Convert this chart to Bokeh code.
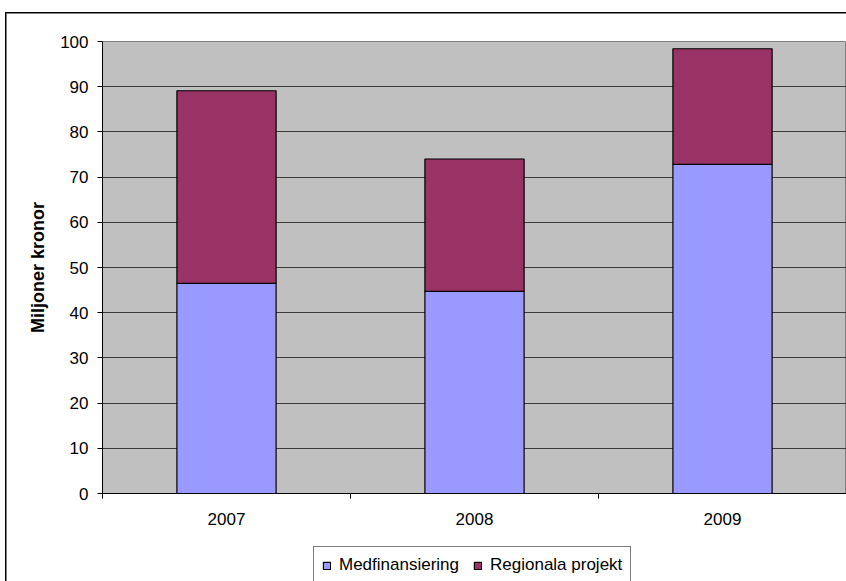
from bokeh.plotting import figure
from bokeh.layouts import column
from bokeh.models import Range1d, FixedTicker, Legend, LegendItem, ColumnDataSource
from bokeh.embed import file_html
from bokeh.resources import INLINE

years = ["2007", "2008", "2009"]
medfinansiering = [46.5, 44.7, 72.8]
regionala = [42.6, 29.3, 25.6]
y_ticks = [0, 10, 20, 30, 40, 50, 60, 70, 80, 90, 100]
series_names = ["Medfinansiering", "Regionala projekt"]
series_colors = ["#9999FF", "#993366"]

x = list(range(len(years)))
src = ColumnDataSource(dict(x=x, med=medfinansiering, reg=regionala,
                            top=[a + b for a, b in zip(medfinansiering, regionala)]))

FONT = "Liberation Sans"
FS = "17px"

p = figure(width=846, height=540, output_backend="svg", toolbar_location=None,
           x_range=Range1d(-0.5, 2.5), y_range=Range1d(0, 100),
           min_border_left=102, min_border_top=41, min_border_right=0, min_border_bottom=47)
p.background_fill_color = "#C0C0C0"
p.border_fill_alpha = 0
p.outline_line_color = "#808080"
p.styles = {"box-shadow": "inset 5px 12px 0 0 white, inset 6.5px 13.5px 0 0 black"}

p.vbar(x="x", top="med", bottom=0, width=0.4, source=src,
       fill_color=series_colors[0], line_color="black", line_width=1.2)
p.vbar(x="x", top="top", bottom="med", width=0.4, source=src,
       fill_color=series_colors[1], line_color="black", line_width=1.2)

# y axis
p.yaxis.ticker = FixedTicker(ticks=y_ticks)
p.yaxis.axis_label = "Miljoner kronor"
p.yaxis.axis_label_text_font = FONT
p.yaxis.axis_label_text_font_style = "bold"
p.yaxis.axis_label_text_font_size = "18px"
p.yaxis.axis_label_text_color = "black"
p.yaxis.axis_label_standoff = 9
p.yaxis.major_label_text_font = FONT
p.yaxis.major_label_text_font_size = FS
p.yaxis.major_label_text_color = "black"
p.yaxis.major_label_standoff = 9
p.yaxis.major_tick_out = 5
p.yaxis.major_tick_in = 0
p.yaxis.minor_tick_out = 0
p.yaxis.minor_tick_in = 0
p.yaxis.axis_line_color = "black"
p.yaxis.major_tick_line_color = "black"

# x axis
p.xaxis.ticker = FixedTicker(ticks=x, minor_ticks=[-0.5, 0.5, 1.5, 2.5])
p.xaxis.major_label_overrides = {i: y for i, y in enumerate(years)}
p.xaxis.major_label_text_font = FONT
p.xaxis.major_label_text_font_size = FS
p.xaxis.major_label_text_color = "black"
p.xaxis.major_tick_out = 0
p.xaxis.major_tick_in = 0
p.xaxis.minor_tick_out = 5
p.xaxis.minor_tick_in = 0
p.xaxis.minor_tick_line_color = "black"
p.xaxis.major_label_standoff = 14
p.xaxis.axis_line_color = "black"

p.xgrid.grid_line_color = None
p.ygrid.grid_line_color = "#3c3c3c"
p.ygrid.grid_line_width = 1
p.ygrid.ticker = FixedTicker(ticks=y_ticks)

# legend strip below the chart
q = figure(width=846, height=41, output_backend="svg", toolbar_location=None,
           x_range=Range1d(0, 744), y_range=Range1d(0, 41),
           min_border_left=102, min_border_top=0, min_border_right=0, min_border_bottom=0)
q.axis.visible = False
q.grid.grid_line_color = None
q.outline_line_color = None
q.background_fill_alpha = 0
q.border_fill_alpha = 0
q.styles = {"box-shadow": "inset 5px 0 0 0 white, inset 6.5px 0 0 0 black"}

# legend proxies (kept outside the visible range)
proxy = ColumnDataSource(dict(x=[-1000], top=[-1000], bottom=[-1001]))
legend_renderers = [q.vbar(x="x", top="top", bottom="bottom", width=1, source=proxy,
                           fill_color=c, line_color="black", line_width=1.2)
                    for c in series_colors]

legend = Legend(items=[LegendItem(label=n, renderers=[r])
                       for n, r in zip(series_names, legend_renderers)],
                location=(211, -3), orientation="horizontal")
legend.border_line_color = "black"
legend.border_line_width = 1
legend.background_fill_color = "white"
legend.label_text_font = FONT
legend.label_text_font_size = FS
legend.label_text_color = "black"
legend.glyph_width = 9
legend.glyph_height = 9
legend.padding = 8
legend.spacing = 14
legend.label_standoff = 8
legend.margin = 0
q.add_layout(legend)

layout = column(p, q, spacing=0)
open("out.html", "w").write(file_html(layout, INLINE))
